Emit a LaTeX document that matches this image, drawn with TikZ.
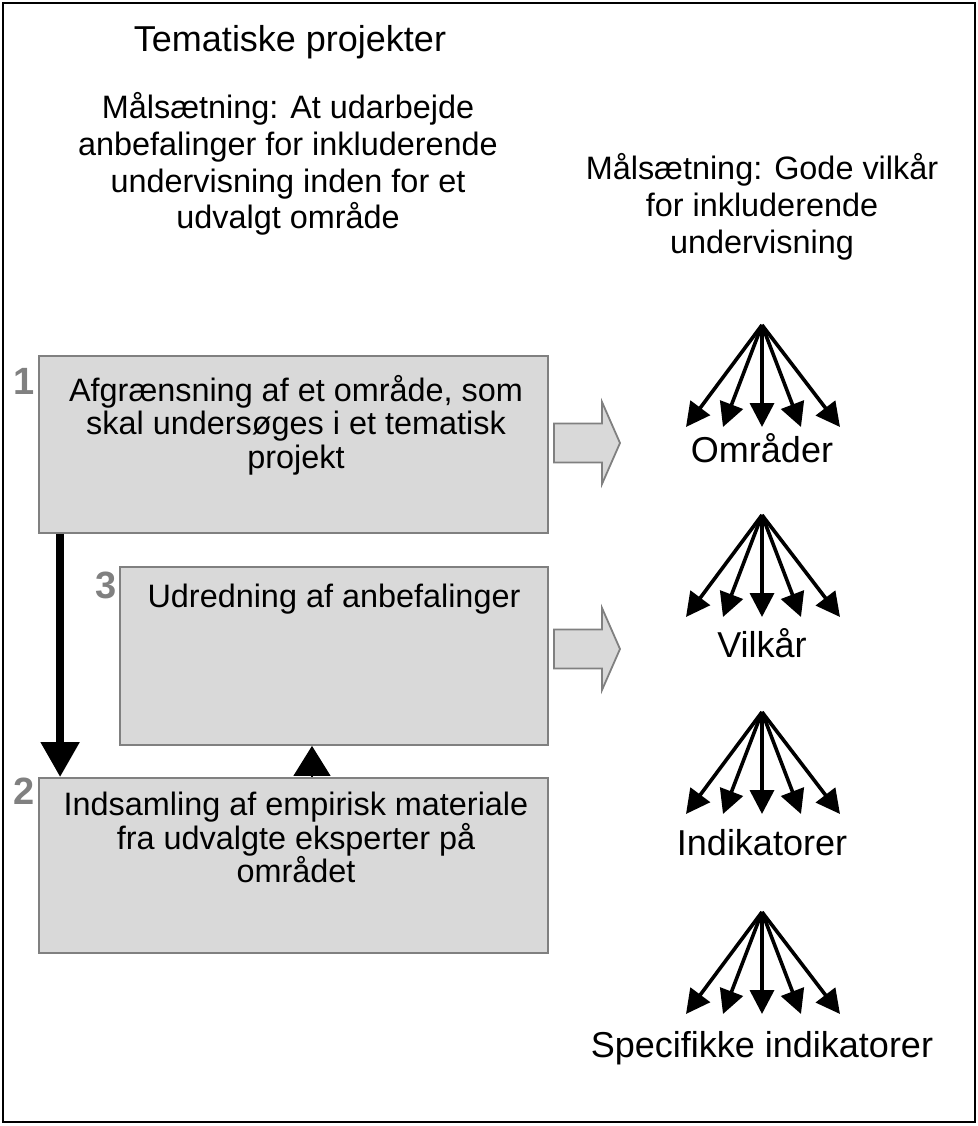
\documentclass[tikz,border=0pt]{standalone}
\usepackage{fontspec}
\setmainfont{Liberation Sans}
\usetikzlibrary{arrows.meta}

\begin{document}
\begin{tikzpicture}[x=0.5pt, y=-0.5pt]
      \tikzset{shaded/.style={draw=gray, fill=black!15, line width=0.9pt, inner sep=0pt},
               boxtext/.style={align=center, inner sep=0pt, anchor=north, font=\fontsize{16.2}{16.7}\selectfont},
               goal/.style={align=center, inner sep=0pt, anchor=north, font=\fontsize{16.2}{18.4}\selectfont},
               number/.style={anchor=base, inner sep=0pt, text=gray, font=\fontsize{19}{22}\selectfont\bfseries},
               fanlabel/.style={anchor=base, inner sep=0pt, font=\fontsize{18}{20.7}\selectfont},
               fanarrow/.style={line width=1.8pt, -{Triangle[length=12pt, width=12pt]}}}
      \useasboundingbox (0,0) rectangle (978,1126);
      \draw[line width=1.2pt] (3,3) rectangle (975,1122);
%% Headings
      	\node[fanlabel] (title) at (290,51) {Tematiske projekter};
      	\node[goal] (g1) at (288,92) {Målsætning: At udarbejde\\anbefalinger for inkluderende\\undervisning inden for et\\udvalgt område};
      	\node[goal] (g2) at (762,153) {Målsætning: Gode vilkår\\for inkluderende\\undervisning};
%% Boxes
      	\node[shaded, minimum width=254.5pt, minimum height=88.5pt] (b1) at (293.5,444.5) {};
      	\node[shaded, minimum width=214pt, minimum height=89pt] (b3) at (334,656) {};
      	\node[shaded, minimum width=254.5pt, minimum height=87.5pt] (b2) at (293.5,865.5) {};
      	\node[boxtext] (t1) at (296,375) {Afgrænsning af et område, som\\skal undersøges i et tematisk\\projekt};
      	\node[boxtext] (t3) at (334,584) {Udredning af anbefalinger};
      	\node[boxtext] (t2) at (296,792) {Indsamling af empirisk materiale\\fra udvalgte eksperter på\\området};
      	\node[number] (n1) at (24,394) {1};
      	\node[number] (n3) at (106,598) {3};
      	\node[number] (n2) at (24,804) {2};
%Arrows
		\draw[line width=4pt, -{Triangle[length=17.5pt, width=18.5pt]}] ([xshift=11pt]b1.south west) -- ([xshift=11pt]b2.north west);
		\draw[line width=0.6pt, -{Triangle[length=15pt, width=18.5pt]}] ([xshift=9.25pt]b2.north) -- ([xshift=9.25pt]b2.north |- b3.south);
		\foreach \y in {443,649}
		  \draw[draw=gray, fill=black!15, line width=0.9pt] (554,\y-19.5) -- (602,\y-19.5) -- (602,\y-41) -- (620,\y) -- (602,\y+41) -- (602,\y+19.5) -- (554,\y+19.5) -- cycle;
%Fans
		\foreach \y/\ly/\lab [count=\i] in {325/462/Områder, 515/657/Vilkår, 712/855/Indikatorer, 912/1057/Specifikke indikatorer}{
		  \coordinate (f\i) at (762,\y);
		  \foreach \dx [count=\j] in {-76,-39,0,39,78}{
		    \coordinate (f\i-\j) at (762+\dx,\y+102);
		    \draw[fanarrow] (f\i) -- (f\i-\j);
		  }
		  \node[fanlabel] (l\i) at (762,\ly) {\lab};
		}
	\end{tikzpicture}
\end{document}
